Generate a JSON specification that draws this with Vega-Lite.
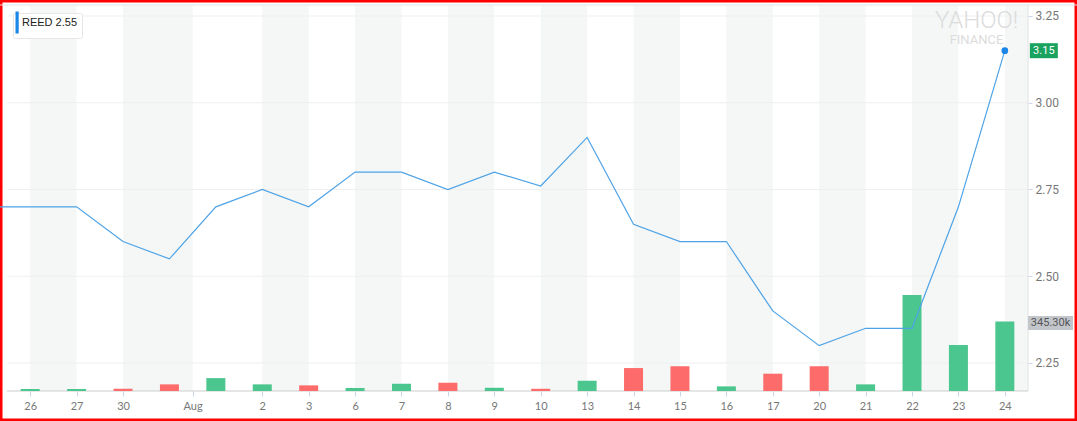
{
  "$schema": "https://vega.github.io/schema/vega-lite/v6.json",
  "width": 1077,
  "height": 421,
  "padding": 0,
  "autosize": {"type": "none"},
  "background": "#ffffff",
  "view": {"stroke": "#ff0000", "strokeWidth": 5, "fill": "#ffffff"},
  "config": {"font": "Liberation Sans"},
  "title": {
    "text": "YAHOO!",
    "subtitle": "FINANCE",
    "orient": "top",
    "frame": "group",
    "anchor": "middle",
    "dx": 438,
    "offset": -47,
    "color": "#dcdcdc",
    "font": "Roboto",
    "fontWeight": 300,
    "fontSize": 24,
    "subtitleColor": "#dcdcdc",
    "subtitleFont": "Roboto",
    "subtitleFontSize": 13,
    "subtitlePadding": 1
  },
  "datasets": {
    "prices": [
      {"date": "2018-07-25", "i": -1, "close": 2.70, "vol": null, "dir": null},
      {"date": "2018-07-26", "i": 0, "close": 2.70, "vol": 10000, "dir": "up"},
      {"date": "2018-07-27", "i": 1, "close": 2.70, "vol": 10000, "dir": "up"},
      {"date": "2018-07-30", "i": 2, "close": 2.60, "vol": 11000, "dir": "down"},
      {"date": "2018-07-31", "i": 3, "close": 2.55, "vol": 33000, "dir": "down"},
      {"date": "2018-08-01", "i": 4, "close": 2.70, "vol": 64000, "dir": "up"},
      {"date": "2018-08-02", "i": 5, "close": 2.75, "vol": 33000, "dir": "up"},
      {"date": "2018-08-03", "i": 6, "close": 2.70, "vol": 28000, "dir": "down"},
      {"date": "2018-08-06", "i": 7, "close": 2.80, "vol": 15000, "dir": "up"},
      {"date": "2018-08-07", "i": 8, "close": 2.80, "vol": 36000, "dir": "up"},
      {"date": "2018-08-08", "i": 9, "close": 2.75, "vol": 41000, "dir": "down"},
      {"date": "2018-08-09", "i": 10, "close": 2.80, "vol": 16000, "dir": "up"},
      {"date": "2018-08-10", "i": 11, "close": 2.76, "vol": 11000, "dir": "down"},
      {"date": "2018-08-13", "i": 12, "close": 2.90, "vol": 51000, "dir": "up"},
      {"date": "2018-08-14", "i": 13, "close": 2.65, "vol": 114000, "dir": "down"},
      {"date": "2018-08-15", "i": 14, "close": 2.60, "vol": 123000, "dir": "down"},
      {"date": "2018-08-16", "i": 15, "close": 2.60, "vol": 23000, "dir": "up"},
      {"date": "2018-08-17", "i": 16, "close": 2.40, "vol": 86000, "dir": "down"},
      {"date": "2018-08-20", "i": 17, "close": 2.30, "vol": 123000, "dir": "down"},
      {"date": "2018-08-21", "i": 18, "close": 2.35, "vol": 33000, "dir": "up"},
      {"date": "2018-08-22", "i": 19, "close": 2.35, "vol": 477000, "dir": "up"},
      {"date": "2018-08-23", "i": 20, "close": 2.70, "vol": 228500, "dir": "up"},
      {"date": "2018-08-24", "i": 21, "close": 3.15, "vol": 345300, "dir": "up"}
    ],
    "bands": [
      {"s": 0, "e": 1}, {"s": 2, "e": 3.5}, {"s": 5, "e": 6}, {"s": 7, "e": 8},
      {"s": 9, "e": 10}, {"s": 11, "e": 12}, {"s": 13, "e": 14}, {"s": 15, "e": 16},
      {"s": 17, "e": 18}, {"s": 19, "e": 20}, {"s": 21, "e": 21.5}
    ],
    "grid": [{"g": 3.25}, {"g": 3.0}, {"g": 2.75}, {"g": 2.5}, {"g": 2.25}]
  },
  "layer": [
    {
      "data": {"name": "bands"},
      "mark": {"type": "rect", "color": "#f5f7f7"},
      "encoding": {
        "x": {
          "field": "s", "type": "quantitative",
          "scale": {"domain": [-0.6508, 22.555], "nice": false, "zero": false, "padding": 0},
          "axis": {
            "orient": "bottom", "offset": -30, "title": null, "domain": false, "grid": false,
            "values": [0, 1, 2, 3.5, 5, 6, 7, 8, 9, 10, 11, 12, 13, 14, 15, 16, 17, 18, 19, 20, 21],
            "labelExpr": "datum.value == 3.5 ? 'Aug' : ['26','27','30','31','1','2','3','6','7','8','9','10','13','14','15','16','17','20','21','22','23','24'][datum.value]",
            "ticks": true, "tickSize": 5, "tickColor": "#ccd6eb", "labelColor": "#777777", "labelFont": "Lato",
            "labelFontSize": 11, "labelPadding": 4, "labelFlush": false, "labelOverlap": false
          }
        },
        "x2": {"field": "e"},
        "y": {"datum": 3.2817, "type": "quantitative", "scale": {"domain": [2.0828, 3.2961], "nice": false, "zero": false}, "axis": null},
        "y2": {"datum": 2.1693}
      }
    },
    {
      "data": {"name": "grid"},
      "mark": {"type": "rule", "color": "#efefef", "strokeWidth": 1},
      "encoding": {
        "x": {"datum": -0.5, "type": "quantitative", "scale": {"domain": [-0.6508, 22.555], "nice": false, "zero": false, "padding": 0}},
        "x2": {"datum": 21.5},
        "y": {"field": "g", "type": "quantitative", "scale": {"domain": [2.0828, 3.2961], "nice": false, "zero": false}, "axis": null}
      }
    },
    {
      "data": {"values": [{}]},
      "mark": {"type": "rule", "color": "#e4e4e4", "strokeWidth": 1},
      "encoding": {
        "y": {"datum": 3.2817, "type": "quantitative", "scale": {"domain": [2.0828, 3.2961], "nice": false, "zero": false}, "axis": null}
      }
    },
    {
      "data": {"values": [{}]},
      "mark": {"type": "rule", "color": "#e2e2e2", "strokeWidth": 1},
      "encoding": {
        "x": {"datum": 21.5, "type": "quantitative", "scale": {"domain": [-0.6508, 22.555], "nice": false, "zero": false, "padding": 0}},
        "y": {"datum": 3.2817, "type": "quantitative", "scale": {"domain": [2.0828, 3.2961], "nice": false, "zero": false}, "axis": null},
        "y2": {"datum": 2.1693}
      }
    },
    {
      "data": {"values": [{}]},
      "mark": {"type": "rule", "color": "#cccccc", "strokeWidth": 1},
      "encoding": {
        "x": {"datum": -0.5, "type": "quantitative", "scale": {"domain": [-0.6508, 22.555], "nice": false, "zero": false, "padding": 0}},
        "x2": {"datum": 21.5},
        "y": {"datum": 2.1693, "type": "quantitative", "scale": {"domain": [2.0828, 3.2961], "nice": false, "zero": false}, "axis": null}
      }
    },
    {
      "data": {"name": "prices"},
      "transform": [{"filter": "datum.vol != null"}],
      "mark": {"type": "bar", "width": 19},
      "encoding": {
        "x": {"field": "i", "type": "quantitative", "scale": {"domain": [-0.6508, 22.555], "nice": false, "zero": false, "padding": 0}},
        "y": {"field": "vol", "type": "quantitative", "scale": {"domain": [-149040, 1942488], "nice": false, "zero": false}, "axis": null},
        "color": {"field": "dir", "type": "nominal", "scale": {"domain": ["up", "down"], "range": ["#4bc68e", "#fe6b6b"]}, "legend": null}
      }
    },
    {
      "data": {"name": "prices"},
      "mark": {"type": "line", "color": "#4ea3e6", "strokeWidth": 1.2, "clip": true},
      "encoding": {
        "x": {"field": "i", "type": "quantitative", "scale": {"domain": [-0.6508, 22.555], "nice": false, "zero": false, "padding": 0}},
        "y": {
          "field": "close", "type": "quantitative",
          "scale": {"domain": [2.0828, 3.2961], "nice": false, "zero": false},
          "axis": {
            "orient": "right", "offset": -49, "title": null, "domain": false, "grid": false,
            "values": [2.25, 2.5, 2.75, 3.0, 3.25], "format": ".2f",
            "tickSize": 4, "tickColor": "#ccd6eb", "labelColor": "#777777", "labelFont": "Roboto",
            "labelFontSize": 12, "labelPadding": 3, "labelOverlap": false, "labelFlush": false
          }
        }
      }
    },
    {
      "data": {"name": "prices"},
      "transform": [{"filter": "datum.i == 21"}],
      "mark": {"type": "point", "filled": true, "size": 45, "opacity": 1},
      "encoding": {
        "x": {"field": "i", "type": "quantitative", "scale": {"domain": [-0.6508, 22.555], "nice": false, "zero": false, "padding": 0}},
        "y": {"field": "close", "type": "quantitative", "scale": {"domain": [2.0828, 3.2961], "nice": false, "zero": false}, "axis": null},
        "color": {
          "datum": "REED 2.55", "type": "nominal",
          "scale": {"range": ["#1a86e8"]},
          "legend": {
            "orient": "top-left", "offset": 13, "title": null,
            "symbolType": "M-3.5,-5.5H-1.9V5.5H-3.5Z", "symbolSize": 16, "symbolStrokeWidth": 0,
            "labelFont": "Liberation Sans", "labelFontSize": 11, "labelColor": "#222222", "labelOffset": -6,
            "fillColor": "#ffffff", "strokeColor": "#e6e6e6", "padding": 4, "cornerRadius": 2
          }
        }
      }
    },
    {
      "data": {"name": "prices"},
      "transform": [{"filter": "datum.i == 21"}],
      "mark": {"type": "point", "shape": "M-1,-0.536H1V0.536H-1Z", "size": 784, "filled": true, "color": "#1aa35f", "opacity": 1, "xOffset": 39},
      "encoding": {
        "x": {"field": "i", "type": "quantitative", "scale": {"domain": [-0.6508, 22.555], "nice": false, "zero": false, "padding": 0}},
        "y": {"field": "close", "type": "quantitative", "scale": {"domain": [2.0828, 3.2961], "nice": false, "zero": false}, "axis": null}
      }
    },
    {
      "data": {"name": "prices"},
      "transform": [{"filter": "datum.i == 21"}],
      "mark": {"type": "text", "color": "#ffffff", "fontSize": 11, "font": "Roboto", "align": "center", "baseline": "middle", "xOffset": 39},
      "encoding": {
        "x": {"field": "i", "type": "quantitative", "scale": {"domain": [-0.6508, 22.555], "nice": false, "zero": false, "padding": 0}},
        "y": {"field": "close", "type": "quantitative", "scale": {"domain": [2.0828, 3.2961], "nice": false, "zero": false}, "axis": null},
        "text": {"field": "close", "type": "quantitative", "format": ".2f"}
      }
    },
    {
      "data": {"name": "prices"},
      "transform": [{"filter": "datum.i == 21"}],
      "mark": {"type": "point", "shape": "M-1,-0.311H1V0.311H-1Z", "size": 2025, "filled": true, "color": "#c2c6cb", "opacity": 1, "xOffset": 45.7, "yOffset": 1.5},
      "encoding": {
        "x": {"field": "i", "type": "quantitative", "scale": {"domain": [-0.6508, 22.555], "nice": false, "zero": false, "padding": 0}},
        "y": {"field": "vol", "type": "quantitative", "scale": {"domain": [-149040, 1942488], "nice": false, "zero": false}, "axis": null}
      }
    },
    {
      "data": {"name": "prices"},
      "transform": [{"filter": "datum.i == 21"}],
      "mark": {"type": "text", "color": "#555555", "fontSize": 11, "font": "Roboto", "align": "center", "baseline": "middle", "xOffset": 45.7, "yOffset": 1.5},
      "encoding": {
        "x": {"field": "i", "type": "quantitative", "scale": {"domain": [-0.6508, 22.555], "nice": false, "zero": false, "padding": 0}},
        "y": {"field": "vol", "type": "quantitative", "scale": {"domain": [-149040, 1942488], "nice": false, "zero": false}, "axis": null},
        "text": {"field": "vol", "type": "quantitative", "format": ".5s"}
      }
    }
  ],
  "resolve": {"scale": {"y": "independent", "color": "independent"}}
}
